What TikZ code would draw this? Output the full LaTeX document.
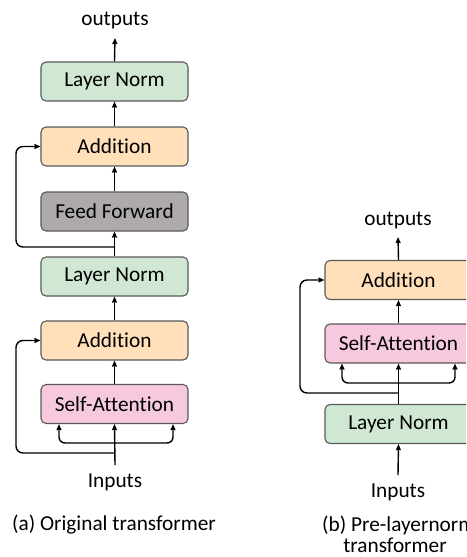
\documentclass[tikz,border=0pt]{standalone}
\usepackage{fontspec}
\setmainfont{Carlito}[Ligatures=NoCommon]
\usetikzlibrary{arrows.meta}
\definecolor{normfill}{HTML}{CFE7D3}
\definecolor{addfill}{HTML}{FFE0BA}
\definecolor{fffill}{HTML}{AEAAAA}
\definecolor{attfill}{HTML}{F6C9DF}
\definecolor{boxline}{HTML}{595959}
\begin{document}
\begin{tikzpicture}[x=1pt,y=-1pt,
  blk/.style={draw=boxline,line width=1.1pt,rounded corners=5pt,
    minimum width=147pt,minimum height=39pt,inner sep=0pt,
    font=\fontsize{21.3}{25}\selectfont},
  lbl/.style={inner sep=0pt,font=\fontsize{21.3}{25}\selectfont},
  conn/.style={line width=1.4pt,-{Stealth[length=6pt,width=5pt,inset=0.5pt]}}]
\useasboundingbox (0,0) rectangle (466,557);
\clip (0,0) rectangle (466,557);

% (a) original transformer, post-layernorm
\node[lbl] (outA) at (115,20) {outputs};
\node[blk,fill=normfill] (lnA2) at (114.5,81.5) {Layer Norm};
\node[blk,fill=addfill] (addA2) at (114.5,146.5) {Addition};
\node[blk,fill=fffill] (ffA) at (114.5,211.5) {Feed Forward};
\node[blk,fill=normfill] (lnA1) at (114.5,276.5) {Layer Norm};
\node[blk,fill=addfill] (addA1) at (114.5,340.5) {Addition};
\node[blk,fill=attfill] (saA) at (114.5,404) {Self-Attention};
\node[lbl] (inA) at (115,482) {Inputs};
\node[lbl] (capA) at (114,525) {(a) Original transformer};

\coordinate (inAtop) at (115,465);
\coordinate (brA1) at (115,453);
\coordinate (brA2) at (115,247);
\coordinate (qkvA) at (115,443);
\coordinate (outAtip) at (115,38);

\draw[conn] (lnA2.north) -- (outAtip);
\draw[conn] (addA2.north) -- (lnA2.south);
\draw[conn] (ffA.north) -- (addA2.south);
\draw[conn] (lnA1.north) -- (ffA.south);
\draw[conn] (addA1.north) -- (lnA1.south);
\draw[conn] (saA.north) -- (addA1.south);
\draw[conn] (inAtop) -- (saA.south);
\draw[conn,rounded corners=6pt] (qkvA) -- (59,443) -- (59,443 |- saA.south);
\draw[conn,rounded corners=6pt] (qkvA) -- (173,443) -- (173,443 |- saA.south);
\draw[conn,rounded corners=7pt] (brA1) -- (16,453) -- (16,340.5) -- (addA1.west);
\draw[conn,rounded corners=7pt] (brA2) -- (16,247) -- (16,146.5) -- (addA2.west);

% (b) pre-layernorm transformer
\node[lbl] (outB) at (398,220) {outputs};
\node[blk,fill=addfill] (addB) at (398.5,280) {Addition};
\node[blk,fill=attfill] (saB) at (398.5,343.5) {Self-Attention};
\node[blk,fill=normfill] (lnB) at (398.5,424) {Layer Norm};
\node[lbl] (inB) at (398,492) {Inputs};
\node[lbl,anchor=west] (capB1) at (322,525) {(b) Pre-layernorm};
\node[lbl] (capB2) at (395,545) {transformer};

\coordinate (inBbot) at (398,475);
\coordinate (brB) at (398,393);
\coordinate (qkvB) at (398,383);
\coordinate (outBtip) at (398,237);

\draw[conn] (addB.north) -- (outBtip);
\draw[conn] (saB.north) -- (addB.south);
\draw[conn] (lnB.north) -- (saB.south);
\draw[conn] (inBbot) -- (lnB.south);
\draw[conn,rounded corners=6pt] (qkvB) -- (342,383) -- (342,383 |- saB.south);
\draw[conn,rounded corners=6pt] (qkvB) -- (455,383) -- (455,383 |- saB.south);
\draw[conn,rounded corners=7pt] (brB) -- (300,393) -- (300,280) -- (addB.west);
\end{tikzpicture}
\end{document}
